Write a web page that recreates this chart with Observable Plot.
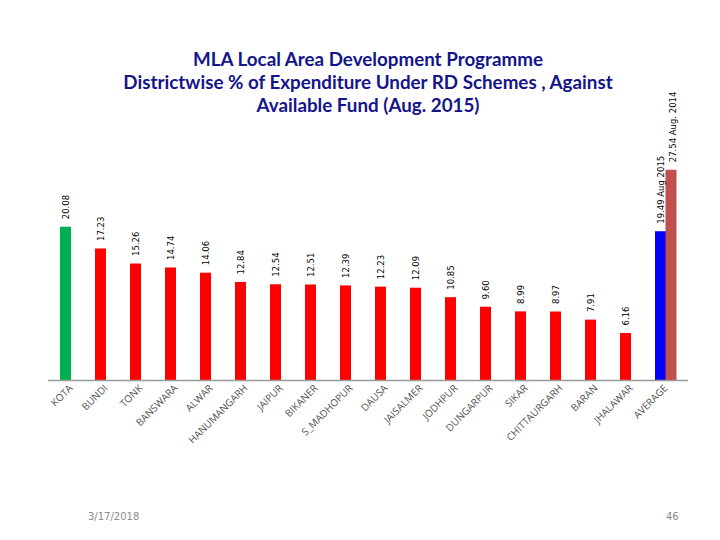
<!DOCTYPE html>
<html>
<head>
<meta charset="utf-8">
<script src="https://cdn.jsdelivr.net/npm/d3@7"></script>
<script src="https://cdn.jsdelivr.net/npm/@observablehq/plot@0.6"></script>
<style>
  html, body { margin: 0; padding: 0; background: #fff; }
  #wrap { position: relative; width: 720px; height: 540px; overflow: hidden; }
  #title { position: absolute; left: 0; top: 47px; width: 736px; text-align: center;
    font-family: Lato, "Open Sans", sans-serif; font-weight: 700; font-size: 18.8px;
    line-height: 23px; color: #15158a; z-index: 2; }
  #date { position: absolute; left: 88px; top: 511px; font-family: "DejaVu Sans", sans-serif;
    font-size: 10px; color: #8a8a8a; }
  #page { position: absolute; left: 666px; top: 511px; font-family: "DejaVu Sans", sans-serif;
    font-size: 10px; color: #8a8a8a; }
  #chart { position: absolute; left: 0; top: 0; }
</style>
</head>
<body>
<div id="wrap">
  <div id="title">MLA Local Area Development Programme<br>Districtwise % of Expenditure Under RD Schemes , Against<br>Available Fund (Aug. 2015)</div>
  <div id="chart"></div>
  <div id="date">3/17/2018</div>
  <div id="page">46</div>
</div>
<script>
const districts = ["KOTA","BUNDI","TONK","BANSWARA","ALWAR","HANUMANGARH","JAIPUR","BIKANER","S_MADHOPUR","DAUSA","JAISALMER","JODHPUR","DUNGARPUR","SIKAR","CHITTAURGARH","BARAN","JHALAWAR","AVERAGE"];
const values2015 = [20.08,17.23,15.26,14.74,14.06,12.84,12.54,12.51,12.39,12.23,12.09,10.85,9.60,8.99,8.97,7.91,6.16,19.49];
const labels2015 = ["20.08","17.23","15.26","14.74","14.06","12.84","12.54","12.51","12.39","12.23","12.09","10.85","9.60","8.99","8.97","7.91","6.16","19.49 Aug 2015"];
const average2014 = [27.54];
const label2014 = ["27.54 Aug. 2014"];
const colors = ["#00B050","#FF0000","#FF0000","#FF0000","#FF0000","#FF0000","#FF0000","#FF0000","#FF0000","#FF0000","#FF0000","#FF0000","#FF0000","#FF0000","#FF0000","#FF0000","#FF0000","#0000FF"];

const main = districts.map((d, i) => ({district: d, value: values2015[i], label: labels2015[i], color: colors[i]}));
const avg = average2014.map((v, i) => ({district: "AVERAGE", value: v, label: label2014[i]}));

const chart = Plot.plot({
  width: 720,
  height: 540,
  marginLeft: 42,
  marginRight: 37,
  marginTop: 151,
  marginBottom: 160,
  style: {background: "transparent", overflow: "visible"},
  x: {domain: districts, paddingInner: 0.69, paddingOuter: 0.345, axis: null},
  y: {domain: [0, 30], axis: null},
  marks: [
    Plot.barY(main, {x: "district", y: "value", fill: "color"}),
    Plot.barY(avg, {x: "district", y: "value", fill: "#C0504D", dx: 10.5}),
    Plot.ruleY([0], {stroke: "#9a9a9a", strokeWidth: 1.5, insetLeft: 6, insetRight: -5}),
    Plot.text(main, {x: "district", y: "value", text: "label", rotate: -90, textAnchor: "start", dy: -8,
      fontSize: 8.5, fontFamily: "DejaVu Sans", fill: "#000"}),
    Plot.text(avg, {x: "district", y: "value", text: "label", rotate: -90, textAnchor: "start", dy: -8, dx: 12,
      fontSize: 8.5, fontFamily: "DejaVu Sans", fill: "#000"}),
    Plot.axisX({domain: districts, tickRotate: -45, tickSize: 0, tickPadding: 6, dx: 5,
      fontSize: 10, fontFamily: "Open Sans", fill: "#505050", label: null})
  ]
});
document.getElementById("chart").appendChild(chart);
</script>
</body>
</html>
